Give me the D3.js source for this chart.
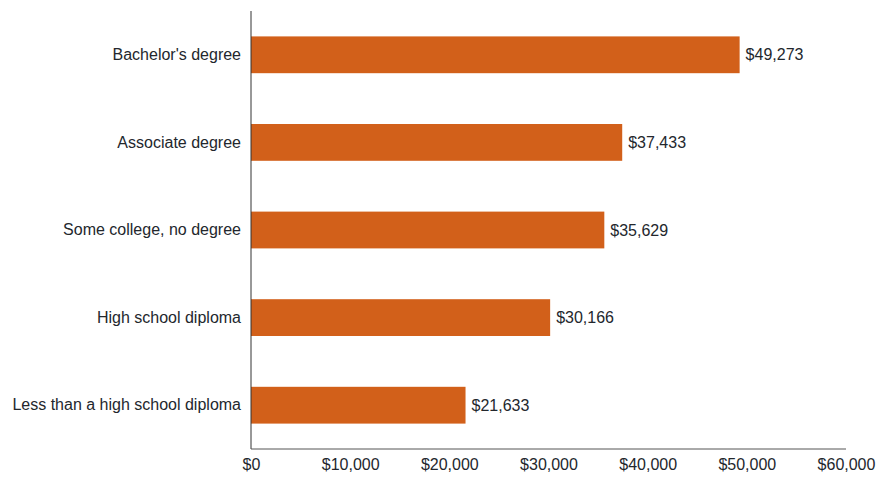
<!DOCTYPE html>
<html>
<head>
<meta charset="utf-8">
<script src="https://cdn.jsdelivr.net/npm/d3@7"></script>
<style>
  body { margin: 0; background: #fff; }
  text { font-family: "Liberation Sans Narrow", "Arial Narrow", "Liberation Sans", sans-serif; fill: #23272d; }
</style>
</head>
<body>
<div id="chart"></div>
<script>
const categories = ["Bachelor's degree", "Associate degree", "Some college, no degree", "High school diploma", "Less than a high school diploma"];
const earnings = [49273, 37433, 35629, 30166, 21633];
const tickValues = [0, 10000, 20000, 30000, 40000, 50000, 60000];

const data = categories.map((c, i) => ({ category: c, value: earnings[i] }));

const width = 886, height = 477;
const plotLeft = 251, plotRight = 846, plotTop = 11, plotBottom = 449;

const svg = d3.select("#chart")
    .append("svg")
    .attr("width", width)
    .attr("height", height);

const xScale = d3.scaleLinear()
    .domain([0, 60000])
    .range([plotLeft, plotRight]);

const yScale = d3.scaleBand()
    .domain(categories)
    .range([plotTop, plotBottom])
    .paddingInner(0.58)
    .paddingOuter(0.29);

// bars
svg.selectAll(".bar")
    .data(data)
    .enter()
    .append("rect")
    .attr("class", "bar")
    .attr("x", xScale(0))
    .attr("y", d => yScale(d.category))
    .attr("width", d => xScale(d.value) - xScale(0))
    .attr("height", yScale.bandwidth())
    .attr("fill", "#d2601a");

// value labels
svg.selectAll(".val")
    .data(data)
    .enter()
    .append("text")
    .attr("class", "val")
    .attr("x", d => xScale(d.value) + 6)
    .attr("y", d => yScale(d.category) + yScale.bandwidth() / 2)
    .attr("dy", "0.35em")
    .style("font-size", "16px")
    .text(d => d3.format("$,")(d.value));

// y axis
const yAxis = d3.axisLeft(yScale).tickSize(0).tickPadding(10);
const gy = svg.append("g")
    .attr("transform", `translate(${plotLeft},0)`)
    .call(yAxis);
gy.select(".domain").remove();
gy.selectAll("text").style("font-size", "16px");
svg.append("line")
    .attr("x1", plotLeft).attr("x2", plotLeft)
    .attr("y1", plotTop).attr("y2", plotBottom)
    .attr("stroke", "#333").attr("stroke-width", 1);

// x axis
const xAxis = d3.axisBottom(xScale)
    .tickValues(tickValues)
    .tickSize(0)
    .tickPadding(10)
    .tickFormat(d3.format("$,"));
const gx = svg.append("g")
    .attr("transform", `translate(0,${plotBottom})`)
    .call(xAxis);
gx.select(".domain").remove();
gx.selectAll("text").style("font-size", "16px");
svg.append("line")
    .attr("x1", plotLeft).attr("x2", plotRight)
    .attr("y1", plotBottom).attr("y2", plotBottom)
    .attr("stroke", "#555").attr("stroke-width", 1);
</script>
</body>
</html>
